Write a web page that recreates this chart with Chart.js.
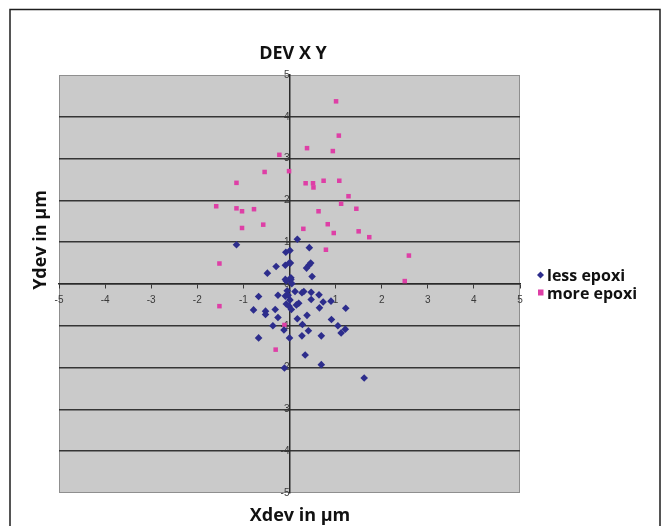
<!DOCTYPE html>
<html>
<head>
<meta charset="utf-8">
<script src="https://cdn.jsdelivr.net/npm/chart.js@4/dist/chart.umd.min.js"></script>
<style>
  html, body { margin: 0; padding: 0; background: #ffffff; }
  #wrap { position: relative; width: 668px; height: 526px; overflow: hidden; }
  canvas { display: block; }
</style>
</head>
<body>
<div id="wrap"><canvas id="c" width="668" height="526"></canvas></div>
<script>
const chartTitle = "DEV X Y";
const xTitle = "Xdev in µm";
const yTitle = "Ydev in µm";
const seriesNames = ["less epoxi", "more epoxi"];
const xTicks = [-5, -4, -3, -2, -1, 0, 1, 2, 3, 4, 5];
const yTicks = [-5, -4, -3, -2, -1, 0, 1, 2, 3, 4, 5];

const lessX = [0.17, -1.15, 0.43, 0.01, -0.08, 0.02, 0.46, 0.42, 0.37, -0.29, -0.09, -0.48, 0.49, 0.03, 0.03, -0.07, 0.05,
  -0.25, -0.67, -0.05, 0.12, 0.27, 0.31, 0.47, 0.64, -0.09, -0.03, 0.01, 0.47, 0.73, 0.90, -0.07, 0.20, 0.15, 0.04, -0.01,
  0.65, 1.22, -0.78, -0.52, -0.52, -0.31, -0.25, 0.17, 0.38, 0.91, -0.36, 0.28, 1.05, 1.21, 1.12, -0.12, 0.41, -0.67,
  0.00, 0.27, 0.69, 0.34, 0.69, -0.11, 1.62, -0.09, 0.00];
const lessY = [1.07, 0.94, 0.87, 0.80, 0.76, 0.50, 0.50, 0.45, 0.38, 0.42, 0.45, 0.26, 0.18, 0.15, 0.11, 0.07, 0.01,
  -0.27, -0.30, -0.16, -0.18, -0.21, -0.18, -0.20, -0.26, -0.29, -0.27, -0.38, -0.37, -0.43, -0.41, -0.48, -0.46, -0.50, -0.61, -0.53,
  -0.57, -0.58, -0.62, -0.65, -0.73, -0.61, -0.80, -0.83, -0.75, -0.85, -1.00, -0.97, -1.00, -1.08, -1.17, -1.10, -1.12, -1.29,
  -1.29, -1.24, -1.24, -1.70, -1.93, -2.01, -2.25, 0.11, 0.51];

const moreX = [1.01, 1.07, 0.38, 0.94, -0.22, -0.54, -0.01, -1.15, 0.35, 0.51, 0.52, 0.74, 1.08, 1.28, -1.59, -1.15, -1.03,
  -0.77, 1.12, 1.45, 0.63, -1.03, -0.57, 0.83, 0.30, 0.96, 1.50, 1.73, 0.79, -1.52, 2.59, 2.50, -1.52, -0.11, -0.30];
const moreY = [4.37, 3.55, 3.25, 3.18, 3.09, 2.68, 2.70, 2.42, 2.41, 2.41, 2.31, 2.47, 2.47, 2.10, 1.86, 1.81, 1.74,
  1.79, 1.92, 1.80, 1.74, 1.34, 1.42, 1.43, 1.32, 1.22, 1.26, 1.12, 0.82, 0.49, 0.68, 0.07, -0.53, -0.98, -1.57];

const toPts = (xs, ys) => xs.map((x, i) => ({ x: x, y: ys[i] }));

const decor = {
  id: 'decor',
  beforeDraw(chart) {
    const { ctx, chartArea: a } = chart;
    ctx.save();
    ctx.fillStyle = '#ffffff';
    ctx.fillRect(0, 0, chart.width, chart.height);
    ctx.strokeStyle = '#1e1e1e';
    ctx.lineWidth = 1.5;
    ctx.beginPath();
    ctx.moveTo(10, 530);
    ctx.lineTo(10, 9.5);
    ctx.lineTo(660, 9.5);
    ctx.lineTo(660, 530);
    ctx.stroke();
    ctx.fillStyle = '#cacaca';
    ctx.fillRect(a.left, a.top, a.right - a.left, a.bottom - a.top);
    ctx.strokeStyle = '#8f8f8f';
    ctx.lineWidth = 1;
    ctx.strokeRect(a.left + 0.5, a.top + 0.5, a.right - a.left - 1, a.bottom - a.top - 1);
    ctx.restore();
  },
  afterDraw(chart) {
    const { ctx } = chart;
    ctx.save();
    ctx.fillStyle = '#111111';
    ctx.textAlign = 'center';
    ctx.textBaseline = 'alphabetic';
    ctx.font = 'bold 18px "Open Sans", "DejaVu Sans", sans-serif';
    ctx.fillText(chartTitle, 293, 59);
    ctx.fillText(xTitle, 300, 521);
    ctx.save();
    ctx.translate(46, 240);
    ctx.rotate(-Math.PI / 2);
    ctx.fillText(yTitle, 0, 0);
    ctx.restore();
    ctx.textAlign = 'left';
    ctx.font = 'bold 16px "Open Sans", "DejaVu Sans", sans-serif';
    chart.data.datasets.forEach((ds, i) => {
      const y = 275 + i * 17.5;
      ctx.fillStyle = ds.backgroundColor;
      ctx.beginPath();
      if (i === 0) {
        ctx.moveTo(540.5, y - 3.5); ctx.lineTo(544, y); ctx.lineTo(540.5, y + 3.5); ctx.lineTo(537, y);
        ctx.closePath(); ctx.fill();
      } else {
        ctx.fillRect(538, y - 3, 5.5, 6);
      }
      ctx.fillStyle = '#111111';
      ctx.fillText(ds.label, 547, y + 6);
    });
    ctx.restore();
  }
};

new Chart(document.getElementById('c'), {
  type: 'scatter',
  data: {
    datasets: [
      {
        label: seriesNames[0],
        data: toPts(lessX, lessY),
        pointStyle: 'rectRot',
        pointRadius: 3.8,
        backgroundColor: '#2d2d8c',
        borderColor: '#2d2d8c',
        borderWidth: 0
      },
      {
        label: seriesNames[1],
        data: toPts(moreX, moreY),
        pointStyle: 'rect',
        pointRadius: 3.2,
        backgroundColor: '#de3fa6',
        borderColor: '#de3fa6',
        borderWidth: 0
      }
    ]
  },
  options: {
    responsive: false,
    animation: false,
    devicePixelRatio: 1,
    layout: { padding: { left: 59, right: 148, top: 75, bottom: 33 } },
    plugins: {
      legend: { display: false },
      title: { display: false },
      tooltip: { enabled: false }
    },
    scales: {
      x: {
        type: 'linear',
        min: -5, max: 5,
        position: { y: 0 },
        afterBuildTicks: (s) => { s.ticks = xTicks.map(v => ({ value: v })); },
        ticks: {
          font: { size: 10, family: 'Arial, "Liberation Sans", sans-serif' },
          color: '#3a3a3a',
          padding: 6,
          maxRotation: 0,
          callback: (v) => (v === 0 ? '' : String(v))
        },
        grid: { drawOnChartArea: false, drawTicks: true, tickLength: 4, color: '#3a3a3a' },
        border: { display: true, color: '#2a2a2a', width: 1.5 }
      },
      y: {
        type: 'linear',
        min: -5, max: 5,
        position: { x: 0 },
        afterBuildTicks: (s) => { s.ticks = yTicks.map(v => ({ value: v })); },
        ticks: {
          font: { size: 10, family: 'Arial, "Liberation Sans", sans-serif' },
          color: '#3a3a3a',
          padding: 2,
          callback: (v) => String(v)
        },
        grid: {
          drawOnChartArea: true,
          drawTicks: true,
          tickLength: 3,
          lineWidth: 1.5,
          color: (c) => (c.tick && Math.abs(c.tick.value) === 5 ? 'rgba(0,0,0,0)' : '#353535')
        },
        border: { display: true, color: '#2a2a2a', width: 1.5 }
      }
    }
  },
  plugins: [decor]
});
</script>
</body>
</html>
